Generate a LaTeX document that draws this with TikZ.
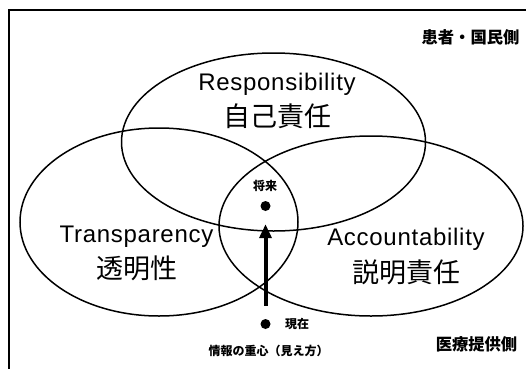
\documentclass[tikz,border=0pt]{standalone}
\usepackage{fontspec}
\setmainfont{Liberation Sans}[LetterSpace=3]
\newfontfamily\jp{Noto Sans CJK JP}
\usetikzlibrary{arrows.meta}
\begin{document}
\begin{tikzpicture}[x=1pt,y=-1pt,
  ring/.style={line width=1.5pt},
  en/.style={font=\fontsize{24}{27}\selectfont, inner sep=0pt},
  ja/.style={font=\jp\fontsize{27}{30}\selectfont, inner sep=0pt},
  side/.style={font=\jp\bfseries\fontsize{16.3}{19}\selectfont, inner sep=0pt},
  small/.style={font=\jp\bfseries\fontsize{12}{14}\selectfont, inner sep=0pt},
  dot/.style={circle, fill=black, minimum size=10pt, inner sep=0pt}]
\useasboundingbox (0,0) rectangle (526,369);
\fill[white] (0,0) rectangle (526,369);
% frame
\coordinate (fTR) at (526,10);
\coordinate (fTL) at (9,10);
\coordinate (fBL) at (9,369);
\draw[line width=1.3pt] (fTR) -- (fTL) -- (fBL);
% ellipses
\draw[ring] (273.5,142) ellipse [x radius=152pt, y radius=89pt];
\draw[ring] (159,222) ellipse [x radius=139pt, y radius=94pt];
\draw[ring] (371,226) ellipse [x radius=152pt, y radius=90pt];
% labels
\node[en] (resp) at (277,84) {Responsibility};
\node[ja] (respj) at (277,116) {自己責任};
\node[en] (trans) at (136.5,236.5) {Transparency};
\node[ja] (transj) at (136.5,268.5) {透明性};
\node[en] (acc) at (406,239) {Accountability};
\node[ja] (accj) at (406,272.5) {説明責任};
\node[side] (pat) at (470.5,37) {患者・国民側};
\node[side] (prov) at (476.5,344) {医療提供側};
% centre of information
\node[small] (fut) at (265,186) {将来};
\node[dot] (futdot) at (265.5,206) {};
\node[dot] (nowdot) at (265.5,324) {};
\node[small, anchor=west] (now) at (285,324) {現在};
\node[small] (cap) at (268.5,350.5) {情報の重心（見え方）};
\draw[line width=4pt, -{Triangle[length=14pt,width=12pt]}, shorten <=13pt, shorten >=13pt] (nowdot) -- (futdot);
\end{tikzpicture}
\end{document}
